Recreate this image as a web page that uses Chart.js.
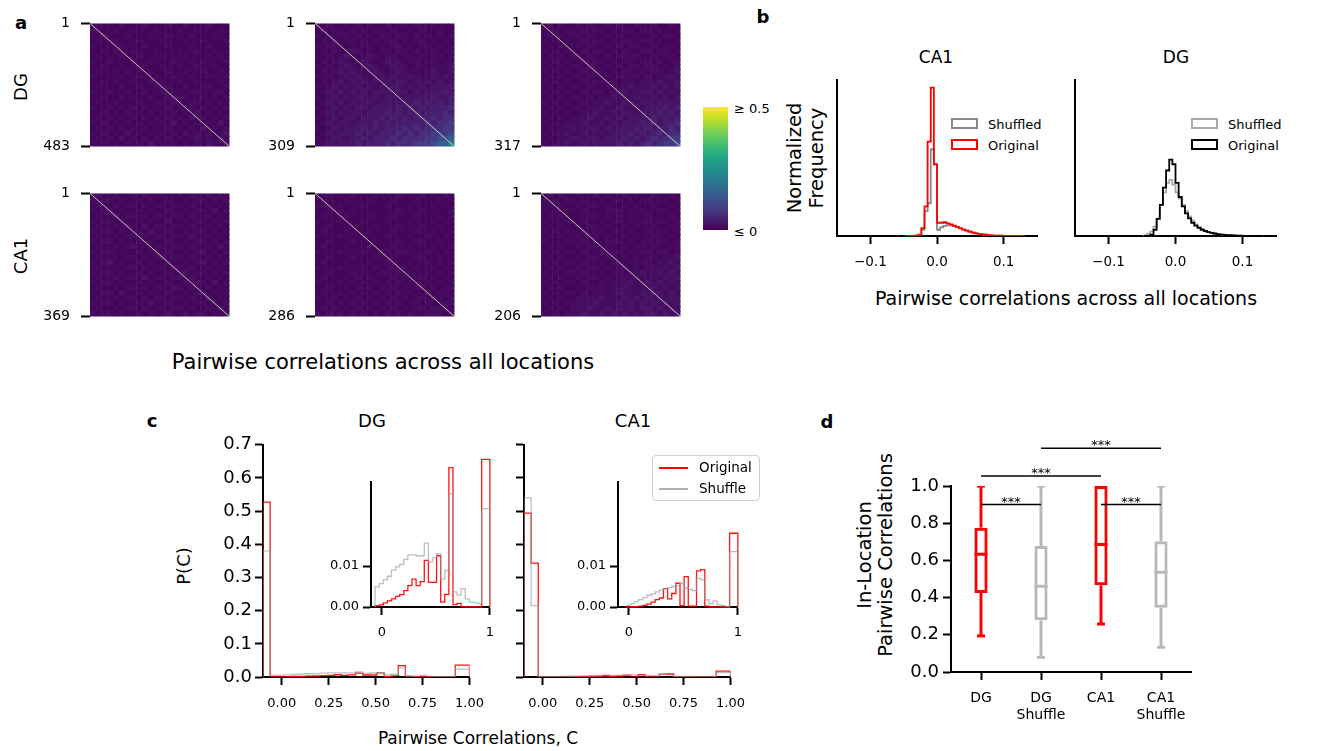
<!DOCTYPE html>
<html>
<head>
<meta charset="utf-8">
<script src="https://cdn.jsdelivr.net/npm/chart.js@4.4.1/dist/chart.umd.min.js"></script>
<style>
  html, body { margin: 0; padding: 0; background: #fff; }
  body { width: 1341px; height: 751px; position: relative; overflow: hidden;
         font-family: "DejaVu Sans", sans-serif; color: #000; }
  .cw { position: absolute; }
  .t { position: absolute; white-space: nowrap; line-height: 1; transform: translate(-50%, -50%); }
  .l { position: absolute; white-space: nowrap; line-height: 1; transform: translate(0, -50%); }
  .rot { transform: translate(-50%, -50%) rotate(-90deg); }
  .bold { font-weight: bold; }
  .lbox { position: absolute; box-sizing: border-box; width: 27px; height: 11px; border: 2px solid #000; }
  .cbar { position: absolute; left: 703px; top: 107px; width: 25px; height: 123px;
          background: linear-gradient(to top, #440154 0%, #482475 10%, #414487 20%, #355f8d 30%, #2a788e 40%,
                      #21918c 50%, #22a884 60%, #44bf70 70%, #7ad151 80%, #bddf26 90%, #fde725 100%); }
  .cleg { position: absolute; left: 652px; top: 455px; width: 108px; height: 46px; box-sizing: border-box;
          border: 1.5px solid #cfcfcf; border-radius: 4px; background: rgba(255,255,255,0.85); }
  .cleg i { position: absolute; left: 6px; width: 29px; height: 1.5px; }
  .cleg span { position: absolute; left: 46px; font-size: 13.5px; line-height: 1; transform: translate(0,-50%); }
</style>
</head>
<body>

<div class="t bold" style="left:21px;top:23px;font-size:18px">a</div>
<div class="t bold" style="left:763px;top:17px;font-size:18px">b</div>
<div class="t bold" style="left:152px;top:421px;font-size:18px">c</div>
<div class="t bold" style="left:827px;top:422px;font-size:18px">d</div>

<div class="t rot" style="left:21px;top:87px;font-size:18px">DG</div>
<div class="t rot" style="left:21px;top:256px;font-size:18px">CA1</div>
<div class="t" style="left:383px;top:362px;font-size:21px">Pairwise correlations across all locations</div>
<div class="cbar"></div>
<div class="l" style="left:734px;top:108px;font-size:13px">≥ 0.5</div>
<div class="l" style="left:734px;top:231px;font-size:13px">≤ 0</div>

<div class="t" style="left:936px;top:57px;font-size:17px">CA1</div>
<div class="t" style="left:1176px;top:57px;font-size:17px">DG</div>
<div class="t rot" style="left:795px;top:158px;font-size:19.5px">Normalized</div>
<div class="t rot" style="left:817px;top:158px;font-size:19.5px">Frequency</div>
<div class="t" style="left:1066px;top:298px;font-size:19px">Pairwise correlations across all locations</div>
<div class="lbox" style="left:951px;top:118px;border-color:#888"></div>
<div class="l" style="left:988px;top:124px;font-size:13px">Shuffled</div>
<div class="lbox" style="left:951px;top:139px;border-color:#f00"></div>
<div class="l" style="left:988px;top:145px;font-size:13px">Original</div>
<div class="lbox" style="left:1191px;top:118px;border-color:#aaa"></div>
<div class="l" style="left:1228px;top:124px;font-size:13px">Shuffled</div>
<div class="lbox" style="left:1191px;top:139px;border-color:#000"></div>
<div class="l" style="left:1228px;top:145px;font-size:13px">Original</div>

<div class="t" style="left:372px;top:421px;font-size:18px">DG</div>
<div class="t" style="left:633px;top:421px;font-size:18px">CA1</div>
<div class="t rot" style="left:184px;top:566px;font-size:18px">P(C)</div>
<div class="t" style="left:478px;top:738px;font-size:17px">Pairwise Correlations, C</div>

<div class="t rot" style="left:865px;top:555px;font-size:19.5px">In-Location</div>
<div class="t rot" style="left:886px;top:555px;font-size:19.5px">Pairwise Correlations</div>

<script>
// ---- a: pairwise correlation matrices on a coarse 24x24 grid; level d ~ r of 0.05*d ----
const HEAT_DG_A = [
  "121112111211121121112111","211121121112111211211121","112111211121121112111211","121121112111211121121112",
  "211112111211121112112111","112121121112111211211211","121112112111211121112121","211211121121112112121112",
  "112112111211211211211211","121121211121121121121121","211112112112112112112212","112121121121211211211121",
  "121112112112121121122112","211211211211212112211221","112112121121121221121212","121121112112212112212121",
  "211212121211121212121212","112121212121212121312121","121212121212121213121212","212121212121213121212131",
  "121212121212121212131212","212121312121212131212123","121213121212121212312132","212121212131212121213213"
];
const HEAT_DG_B = [
  "212112121211211212112111","121221212122121121211211","212122121212212212121212","121212212121221212212121",
  "212221212212122121221212","121212321212212212122122","212123212321221221212212","121232123212322122122122",
  "212123212321232212212223","121232321232123222123223","212123232123232232223232","121232323232323323232323",
  "212323232323233232323334","123232323233323323233343","212323233232332333334334","123232323323333334343434",
  "212323233233334343434445","123232332333434344344454","212323323334343434445455","123233233343434444454556",
  "212323334343444545455566","123233343434445454556667","212332334344454555566778","123233343444545556667889"
];
const HEAT_DG_C = [
  "121211212112121121121121","212122121221212212212112","121212212112121121121221","212121121221212212212112",
  "121212212112121221121221","212121121221212112212212","121212212112122221121221","212121121221212212212122",
  "121212212112121221221212","212121121221212212122123","121212212112122221212232","212121121221212212223223",
  "121212212112122322232323","212121121221223223323232","121212212122322232232323","212121121223223323323333",
  "121212212232232232333434","212121122322323323334343","121212223223232333343434","212122232232323334343445",
  "121223223323233343434454","212232232232333434345455","121223323323334343454566","212232232333343434545667"
];
const HEAT_CA1_A = [
  "121121121211211212112121","212212112121121121221212","121121221212212212112121","212212112121121121221312",
  "121131221212212212112121","212212112121131121221212","121121221312212212112121","212212112131121121221212",
  "121121221212212213112121","212212112121121121221212","121121231212212212112131","212211112121121121231212",
  "121121221212312212112121","212312112121121121231212","121121221212212212112121","212212112121121131221212",
  "121121221312212212112121","212212112121121121221312","121121221212213212112121","212213112121121121221212",
  "121121221212212212113121","212212112131121121221212","121121221212212212112131","212212112121121131221212"
];
const HEAT_CA1_B = [
  "112111211121112111211121","121112111211121112111211","211121112111211121112111","112121211111112121211112",
  "121112111211121112111212","211121112111211121112121","112111211121112111211211","121112111211121112112112",
  "211121112111211121121121","112111211121112112211211","121112111211121121112112","211121112111212211121121",
  "112111211122121112211211","121112111211211121121212","211121112121121212112121","112111212112212121121212",
  "121112121211121212212121","211121212121212121121212","112112121212121212212122","121121212121212121121221",
  "211212121212121212212212","112121212121212122121122","121212121212121212212221","212121212121212121122212"
];
const HEAT_CA1_C = [
  "121211211212112121121121","212122121121221212212212","121211212212112121121121","211122121112221212112212",
  "121211112212121121211121","212122121121221212212212","121211212212112121121122","212121121221221211212212",
  "121211212212112121122121","211122121212221212212212","121211212212112122121122","212122121121221212212212",
  "121211212212112121221223","212122121121221222212232","121211212212122121222323","212122121121221223223232",
  "121211212212122232222323","212122121121222322323232","121211212222223222232323","212122121221232223233232",
  "121211222232223232323233","212122222322232323232323","121212223223232323323232","212122232232323232332323"
];
const HEAT_N_DG = ['483', '309', '317'];
const HEAT_N_CA1 = ['369', '286', '206'];

// ---- b: histograms of pairwise correlations (bins from -0.15, 64 bins over 0.3) ----
const B_XTICKS = [-0.1, 0, 0.1];
const B_FIRST_BIN = 22;
const B_CA1_SHUF = [0, 0, 0, 0.002, 0.01, 0.04, 0.16, 0.21, 0.556, 0.46, 0.04, 0.055, 0.065, 0.068, 0.068,
  0.064, 0.058, 0.05, 0.043, 0.036, 0.029, 0.023, 0.018, 0.014, 0.011, 0.008, 0.006, 0.004, 0.003, 0.002,
  0.002, 0.001, 0.001, 0.001, 0, 0, 0, 0];
const B_CA1_ORIG = [0, 0, 0, 0.003, 0.006, 0.05, 0.19, 0.605, 0.951, 0.459, 0.085, 0.085, 0.088, 0.081, 0.075,
  0.066, 0.058, 0.049, 0.041, 0.034, 0.028, 0.021, 0.017, 0.013, 0.011, 0.008, 0.006, 0.004, 0.003, 0.002,
  0.002, 0.001, 0.001, 0.001, 0, 0, 0, 0];
const B_DG_SHUF = [0.006, 0.015, 0.03, 0.06, 0.11, 0.2, 0.28, 0.34, 0.36, 0.33, 0.28, 0.24, 0.2, 0.16, 0.125,
  0.098, 0.075, 0.058, 0.045, 0.035, 0.027, 0.021, 0.016, 0.013, 0.01, 0.008, 0.006, 0.005, 0.004, 0.003,
  0.002, 0.001, 0.001, 0, 0, 0, 0, 0];
const B_DG_ORIG = [0, 0, 0.008, 0.04, 0.11, 0.2, 0.31, 0.42, 0.49, 0.46, 0.34, 0.25, 0.19, 0.145, 0.113,
  0.085, 0.066, 0.052, 0.04, 0.032, 0.025, 0.02, 0.016, 0.012, 0.009, 0.007, 0.006, 0.005, 0.004, 0.003,
  0.002, 0.001, 0.001, 0, 0, 0, 0, 0];

// ---- c: P(C), 29 bins over [-0.1, 1.0] ----
const C_XTICKS = [0, 0.25, 0.5, 0.75, 1];
const C_YTICKS = [0, 0.1, 0.2, 0.3, 0.4, 0.5, 0.6, 0.7];
const C_IN_XTICKS = [0, 1];
const C_IN_YTICKS = [0, 0.01];
const C_DG_ORIG = [0.527, 0.0003, 0.0005, 0.0010, 0.0015, 0.0020, 0.0026, 0.0030, 0.0040, 0.0052, 0.0068,
  0.0052, 0.0062, 0.0114, 0.0060, 0.0060, 0.0125, 0.0012, 0.0031, 0.034, 0.0006, 0.0009, 0.0001, 0, 0, 0, 0,
  0.036, 0.036];
const C_DG_SHUF = [0.38, 0.0049, 0.0057, 0.0066, 0.0075, 0.0090, 0.0098, 0.0104, 0.0116, 0.0127, 0.0127,
  0.0125, 0.0125, 0.0156, 0.0110, 0.0120, 0.0130, 0.0068, 0.0089, 0.0276, 0.0037, 0.0029, 0.0045, 0.0020,
  0.0012, 0.0010, 0.0008, 0.024, 0.024];
const C_CA1_ORIG = [0.494, 0.343, 0, 0, 0.0001, 0.0002, 0.0004, 0.0007, 0.0012, 0.0018, 0.0022, 0.0045,
  0.0020, 0.0033, 0.0058, 0.0003, 0.0074, 0.0002, 0.0002, 0.0088, 0.0091, 0.0002, 0, 0, 0, 0, 0, 0.018, 0.018];
const C_CA1_SHUF = [0.54, 0.215, 0.0004, 0.0008, 0.0013, 0.0018, 0.0023, 0.0028, 0.0032, 0.0037, 0.0041,
  0.0045, 0.0047, 0.0050, 0.0052, 0.0058, 0.0047, 0.0043, 0.0040, 0.0070, 0.0066, 0.0018, 0.0008, 0.0015,
  0.0005, 0.0003, 0.0001, 0.0135, 0.0135];
const C_DG_INSET_FROM = 1;
const C_CA1_INSET_FROM = 2;

// ---- d: in-location pairwise correlations, box stats ----
const D_GROUPS = ['DG', 'DG Shuffle', 'CA1', 'CA1 Shuffle'];
const D_MIN = [0.194, 0.079, 0.258, 0.133];
const D_Q1  = [0.425, 0.278, 0.466, 0.346];
const D_MED = [0.633, 0.461, 0.686, 0.536];
const D_Q3  = [0.776, 0.677, 1.0, 0.703];
const D_MAX = [1.0, 1.0, 1.0, 1.0];
const D_YTICKS = [0, 0.2, 0.4, 0.6, 0.8, 1.0];
const D_SIG = [['DG', 'DG Shuffle', 0.9], ['CA1', 'CA1 Shuffle', 0.9], ['DG', 'CA1', 1.054], ['DG Shuffle', 'CA1 Shuffle', 1.203]];

// ---- styles ----
const LEVEL_COLORS = ['#440154', '#45055a', '#460c5f', '#471466', '#481f6e', '#472c7a', '#443a83', '#3e4a89', '#355f8d', '#2a788e'];
const DIAG = 'rgba(228,228,210,0.85)';
const C_RED = 'rgba(255,0,0,0.92)';
const C_GRAY = 'rgba(150,150,150,0.62)';
const BOX_RED = '#ff0000';
const BOX_GRAY = '#b8b8b8';

Chart.defaults.font.family = "'DejaVu Sans', sans-serif";
Chart.defaults.color = '#000';
Chart.defaults.animation = false;
Chart.defaults.events = [];
Chart.defaults.plugins.legend.display = false;
Chart.defaults.plugins.tooltip.enabled = false;

// area = [left, top, width, height] of the plot area on the page
function makeChart(area, pad, yw, xh, cfg) {
  const [x, y, w, h] = area;
  const div = document.createElement('div');
  div.className = 'cw';
  div.style.left = (x - yw - pad[0]) + 'px';
  div.style.top = (y - pad[1]) + 'px';
  div.style.width = (pad[0] + yw + w + pad[2]) + 'px';
  div.style.height = (pad[1] + h + xh + pad[3]) + 'px';
  const cv = document.createElement('canvas');
  div.appendChild(cv);
  document.body.appendChild(div);
  cfg.options.layout = { padding: { left: pad[0], top: pad[1], right: pad[2], bottom: pad[3] } };
  cfg.options.responsive = true;
  cfg.options.maintainAspectRatio = false;
  return new Chart(cv, cfg);
}

const spine = () => ({ display: true, color: '#000', width: 2 });
const tickMarks = (len) => ({ drawOnChartArea: false, drawTicks: true, tickLength: len || 8, tickWidth: 2, tickColor: '#000' });

function linAxis(min, max, vals, fmt, size, pad, fit) {
  return {
    type: 'linear', min, max,
    afterBuildTicks: s => { s.ticks = vals.map(v => ({ value: v })); },
    afterFit: fit,
    ticks: { callback: fmt, font: { size }, padding: pad, maxRotation: 0, autoSkip: false },
    grid: tickMarks(8),
    border: spine()
  };
}

function stepPts(edges, h) {
  const pts = [{ x: edges[0], y: 0 }];
  h.forEach((v, i) => { pts.push({ x: edges[i], y: v }, { x: edges[i + 1], y: v }); });
  pts.push({ x: edges[h.length], y: 0 });
  return pts;
}

// ---------- a ----------
function heatmap(area, grid, lastLabel) {
  const n = grid.length;
  const cells = [], colors = [];
  grid.forEach((row, r) => row.split('').forEach((d, c) => {
    cells.push({ x: c + 0.5, y: r + 0.5 });
    colors.push(LEVEL_COLORS[+d]);
  }));
  const cellPx = area[2] / n;
  return makeChart(area, [4, 10, 2, 10], 60, 0, {
    type: 'scatter',
    data: { datasets: [
      { data: [{ x: 0, y: 0 }, { x: n, y: n }], showLine: true, borderColor: DIAG, borderWidth: 1, pointRadius: 0, order: 0 },
      { data: cells, pointStyle: 'rect', pointRadius: cellPx * Math.SQRT1_2 + 0.25, pointBorderWidth: 0,
        pointBackgroundColor: colors, order: 1 }
    ] },
    options: {
      scales: {
        x: { type: 'linear', display: false, min: 0, max: n },
        y: {
          type: 'linear', min: 0, max: n, reverse: true,
          afterBuildTicks: s => { s.ticks = [{ value: 0 }, { value: n }]; },
          afterFit: s => { s.width = 60; },
          ticks: { callback: v => (v === 0 ? '1' : lastLabel), font: { size: 14 }, padding: 11 },
          grid: tickMarks(9),
          border: { display: false }
        }
      }
    }
  });
}

const HEAT_X = [90, 315, 541];
[HEAT_DG_A, HEAT_DG_B, HEAT_DG_C].forEach((g, i) => heatmap([HEAT_X[i], 14, 142, 142], g, HEAT_N_DG[i]));
[HEAT_CA1_A, HEAT_CA1_B, HEAT_CA1_C].forEach((g, i) => heatmap([HEAT_X[i], 184, 142, 142], g, HEAT_N_CA1[i]));

// ---------- b ----------
const B_BIN_W = 0.3 / 64;
const fmtB = v => (v === 0 ? '0.0' : (v < 0 ? '\u2212' : '') + Math.abs(v).toFixed(1));

function bPanel(area, shuf, orig, shufColor, origColor) {
  const edges = Array.from({ length: orig.length + 1 }, (_, i) => -0.15 + (B_FIRST_BIN + i) * B_BIN_W);
  return makeChart(area, [20, 10, 20, 2], 0, 44, {
    type: 'line',
    data: { datasets: [
      { data: stepPts(edges, orig), borderColor: origColor, borderWidth: 1.8, pointRadius: 0, order: 0 },
      { data: stepPts(edges, shuf), borderColor: shufColor, borderWidth: 1.8, pointRadius: 0, order: 1 }
    ] },
    options: {
      scales: {
        x: linAxis(-0.15, 0.15, B_XTICKS, fmtB, 13.5, 10, s => { s.height = 44; }),
        y: { type: 'linear', min: 0, max: 1, ticks: { display: false }, grid: { display: false },
             border: spine(), afterFit: s => { s.width = 0; } }
      }
    }
  });
}
bPanel([837, 80, 200, 156], B_CA1_SHUF, B_CA1_ORIG, '#888888', '#ff0000');
bPanel([1075, 80, 201, 156], B_DG_SHUF, B_DG_ORIG, '#aaaaaa', '#000000');

// ---------- c ----------
const C_BIN_W = 1.1 / 29;
const cEdges = n => Array.from({ length: n + 1 }, (_, i) => -0.1 + i * C_BIN_W);

function cMain(area, orig, shuf, showY) {
  const edges = cEdges(orig.length);
  return makeChart(area, [10, 12, 14, 2], 46, 40, {
    type: 'line',
    data: { datasets: [
      { data: stepPts(edges, shuf), borderColor: C_GRAY, borderWidth: 1.3, pointRadius: 0, order: 0 },
      { data: stepPts(edges, orig), borderColor: C_RED, borderWidth: 1.3, pointRadius: 0, order: 1 }
    ] },
    options: {
      scales: {
        x: linAxis(-0.1, 1.0, C_XTICKS, v => v.toFixed(2), 13, 11, s => { s.height = 40; }),
        y: linAxis(0, 0.7, C_YTICKS, v => (showY ? v.toFixed(1) : ''), 18, 3, s => { s.width = 46; })
      }
    }
  });
}

function cInset(area, orig, shuf, from) {
  const edges = cEdges(orig.length).slice(from);
  return makeChart(area, [4, 34, 10, 2], 40, 32, {
    type: 'line',
    data: { datasets: [
      { data: stepPts(edges, shuf.slice(from)), borderColor: C_GRAY, borderWidth: 1.3, pointRadius: 0, clip: false, order: 0 },
      { data: stepPts(edges, orig.slice(from)), borderColor: C_RED, borderWidth: 1.3, pointRadius: 0, clip: false, order: 1 }
    ] },
    options: {
      scales: {
        x: linAxis(-0.1, 1.0, C_IN_XTICKS, v => String(v), 13, 10, s => { s.height = 32; }),
        y: linAxis(0, 0.0305, C_IN_YTICKS, v => v.toFixed(2), 13, 4, s => { s.width = 40; })
      }
    }
  });
}

cMain([263, 443, 218, 234], C_DG_ORIG, C_DG_SHUF, true);
cMain([524, 443, 218, 234], C_CA1_ORIG, C_CA1_SHUF, false);
cInset([371, 482, 123, 125], C_DG_ORIG, C_DG_SHUF, C_DG_INSET_FROM);
cInset([618, 482, 124, 125], C_CA1_ORIG, C_CA1_SHUF, C_CA1_INSET_FROM);

// ---------- d ----------
const dColors = D_GROUPS.map(g => (g.includes('Shuffle') ? BOX_GRAY : BOX_RED));

const sigStars = {
  id: 'sigStars',
  afterDatasetsDraw(chart) {
    const { ctx, scales: { x, y } } = chart;
    ctx.save();
    ctx.font = "13px 'DejaVu Sans'";
    ctx.fillStyle = '#000';
    ctx.textAlign = 'center';
    ctx.textBaseline = 'alphabetic';
    D_SIG.forEach(([a, b, v]) => {
      const xm = (x.getPixelForValue(D_GROUPS.indexOf(a)) + x.getPixelForValue(D_GROUPS.indexOf(b))) / 2;
      ctx.fillText('***', xm, y.getPixelForValue(v) + 1);
    });
    ctx.restore();
  }
};

const pointLine = (data, r) => ({
  type: 'line', data, showLine: false, pointStyle: 'line', pointRadius: r, pointBorderWidth: 3,
  pointBorderColor: dColors, pointBackgroundColor: dColors, order: 0
});

makeChart([951, 486, 240, 186], [6, 60, 12, 2], 46, 50, {
  type: 'bar',
  data: {
    labels: D_GROUPS,
    datasets: [
      pointLine(D_MED, 6.5),
      pointLine(D_MIN, 4),
      pointLine(D_MAX, 4),
      { type: 'bar', data: D_Q1.map((q, i) => [q, D_Q3[i]]), backgroundColor: 'rgba(255,255,255,0)',
        borderColor: dColors, borderWidth: 3, borderSkipped: false, barPercentage: 0.22,
        categoryPercentage: 1, grouped: false, order: 1 },
      { type: 'bar', data: D_MIN.map((v, i) => [v, D_Q1[i]]), backgroundColor: dColors, borderWidth: 0,
        barPercentage: 0.05, categoryPercentage: 1, grouped: false, order: 2 },
      { type: 'bar', data: D_Q3.map((v, i) => [v, D_MAX[i]]), backgroundColor: dColors, borderWidth: 0,
        barPercentage: 0.05, categoryPercentage: 1, grouped: false, order: 2 },
      ...D_SIG.map(([a, b, v]) => ({
        type: 'line', data: [{ x: a, y: v }, { x: b, y: v }], borderColor: '#000', borderWidth: 1.5,
        pointRadius: 0, clip: false, order: 0
      }))
    ]
  },
  options: {
    scales: {
      x: {
        type: 'category', offset: true,
        afterFit: s => { s.height = 50; },
        ticks: { callback: (v, i) => D_GROUPS[i].split(' '), font: { size: 14 }, padding: 10, maxRotation: 0, autoSkip: false },
        grid: Object.assign(tickMarks(8), { offset: false }),
        border: spine()
      },
      y: linAxis(0, 1, D_YTICKS, v => v.toFixed(1), 18, 4, s => { s.width = 46; })
    }
  },
  plugins: [sigStars]
});
</script>

<div class="cleg">
  <i style="top:11px;background:#ff0000"></i><span style="top:12px">Original</span>
  <i style="top:32px;background:#b0b0b0"></i><span style="top:33px">Shuffle</span>
</div>
</body>
</html>
